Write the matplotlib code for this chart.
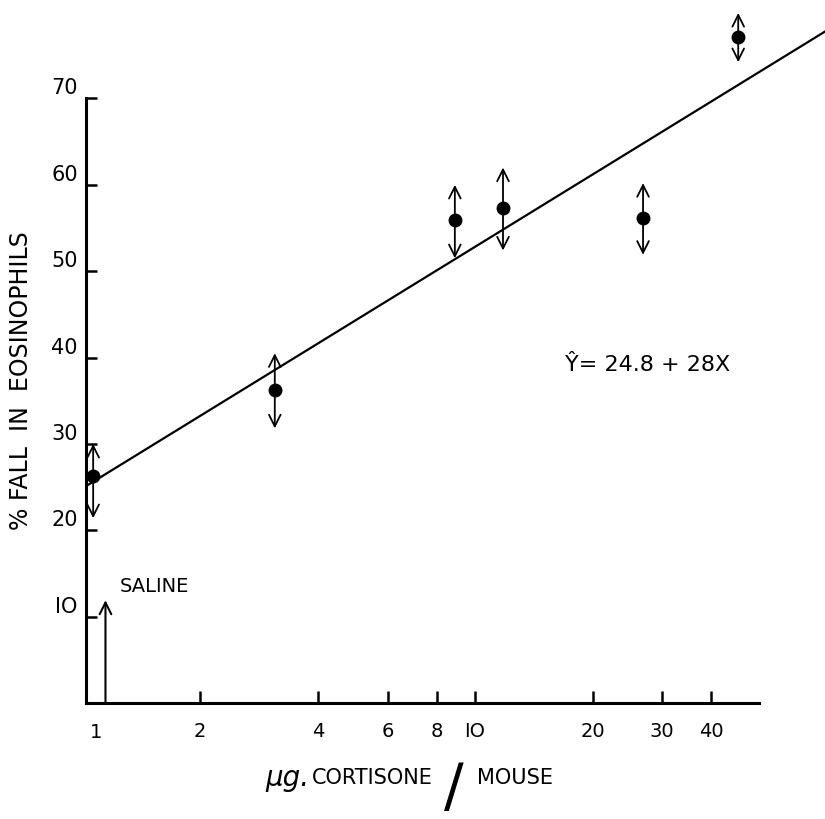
import numpy as np
import matplotlib.pyplot as plt

# doses (ug cortisone / mouse) and % fall in eosinophils
dose = [1.07, 3.1, 8.9, 11.8, 26.8, 46.8]
fall = [26.3, 36.2, 55.9, 57.3, 56.1, 77.1]
upper = [30.0, 40.5, 60.0, 62.0, 60.2, 79.9]
lower = [21.4, 31.8, 51.5, 52.4, 51.9, 74.2]

# fitted line  Y = 24.8 + 28 log10(dose)
intercept = 24.8
slope = 28.0
fit_x = np.array([1.0, 80.0])

saline_x = 1.15
saline_top = 11.9

x_ticks = [2, 4, 6, 8, 10, 20, 30, 40]
x_labels = ['2', '4', '6', '8', 'IO', '20', '30', '40']
y_ticks = [10, 20, 30, 40, 50, 60, 70]
y_labels = ['IO', '20', '30', '40', '50', '60', '70']

plt.rcParams['font.family'] = 'DejaVu Sans'

fig = plt.figure(figsize=(8.25, 8.19), dpi=100)
ax = fig.add_axes([86 / 825, 116 / 819, (825 - 86) / 825, 703 / 819])
ax.set_xscale('log')
ax.set_xlim(1.026, 77.8)
ax.set_ylim(0, 81.4)

# regression line
ax.plot(fit_x, intercept + slope * np.log10(fit_x), color='black', lw=1.6)

# points with double arrows
ax.plot(dose, fall, 'o', color='black', ms=9, zorder=5)
for d, lo, hi in zip(dose, lower, upper):
    ax.annotate('', xy=(d, hi), xytext=(d, lo),
                arrowprops=dict(arrowstyle='<->,head_length=0.7,head_width=0.35',
                                color='black', lw=1.3, shrinkA=0, shrinkB=0,
                                mutation_scale=12))

# saline arrow
ax.annotate('', xy=(saline_x, saline_top), xytext=(saline_x, 0),
            arrowprops=dict(arrowstyle='->,head_length=0.7,head_width=0.35',
                            color='black', lw=1.5, shrinkA=0, shrinkB=0,
                            mutation_scale=12))
ax.text(1.25, 13.5, 'SALINE', fontsize=14, va='center', ha='left')

ax.text(17.0, 39.1, 'Ŷ= 24.8 + 28X', fontsize=16, va='center', ha='left')

# axes styling
for s in ['top', 'right']:
    ax.spines[s].set_visible(False)
ax.spines['left'].set_bounds(0, 70)
ax.spines['bottom'].set_bounds(1.026, 53)
ax.spines['left'].set_linewidth(2.2)
ax.spines['bottom'].set_linewidth(2.2)

ax.set_xticks(x_ticks)
ax.set_xticklabels(x_labels, fontsize=14)
ax.xaxis.set_minor_locator(plt.NullLocator())
ax.tick_params(axis='x', direction='in', length=9, width=1.8, pad=14)
ax.set_yticks(y_ticks)
ax.set_yticklabels(y_labels, fontsize=15, va='bottom')
ax.tick_params(axis='y', direction='in', length=8, width=1.8, pad=6)

# "1" label on x axis
ax.text(1.09, -2.3, '1', fontsize=14, ha='center', va='top', clip_on=False)

# axis titles
fig.text(0.026, 0.535, '% FALL  IN  EOSINOPHILS', rotation=90, fontsize=17,
         ha='center', va='center')
fig.text(0.322, 0.05, 'μg.', fontsize=20, style='italic', ha='left', va='center')
fig.text(0.378, 0.05, 'CORTISONE', fontsize=15, ha='left', va='center')
fig.text(0.55, 0.036, '/', fontsize=42, ha='center', va='center')
fig.text(0.578, 0.05, 'MOUSE', fontsize=15, ha='left', va='center')

fig.savefig('out.png', dpi=100)
